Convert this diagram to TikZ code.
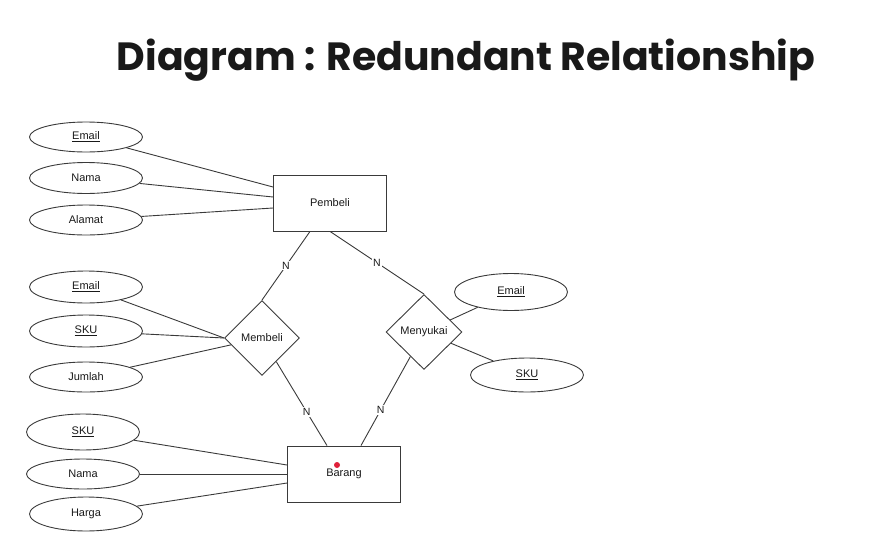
\documentclass[tikz,border=0pt]{standalone}
\usepackage{fontspec}
\setmainfont{Liberation Sans}
\newfontfamily\titlefont{Poppins}
\usetikzlibrary{shapes.geometric}
\definecolor{ln}{HTML}{3A3A3A}
\definecolor{dot}{HTML}{E0213A}
\begin{document}
\begin{tikzpicture}[x=1pt,y=-1pt,
  every node/.style={font=\fontsize{11}{13}\selectfont, text=black!90},
  attr/.style={ellipse, draw=ln, line width=0.9pt, minimum width=113pt, inner sep=0pt},
  ent/.style={rectangle, draw=ln, line width=0.9pt, minimum width=113pt, minimum height=56pt},
  rel/.style={diamond, draw=ln, line width=0.9pt, minimum width=75pt, minimum height=75pt, inner sep=0pt},
  link/.style={draw=ln, line width=0.9pt},
  card/.style={fill=white, inner sep=1pt, font=\fontsize{10.5}{12}\selectfont}]
\useasboundingbox (0,0) rectangle (871,552);
\node[anchor=base, inner sep=0pt] (title) at (466,70)
  {\resizebox{698pt}{!}{\titlefont\bfseries Diagram : Redundant Relationship}};

% entities
\node[ent] (pem) at (330,203) {Pembeli};
\node[ent] (bar) at (344,474) {Barang};
\fill[dot] (337,465) circle (3pt);

% relationships
\node[rel] (mem) at (262,338) {Membeli};
\node[rel, minimum width=76pt] (men) at (424,332) {Menyukai};

% Pembeli attributes
\node[attr, minimum height=30pt] (pemail) at (86,137) {\underline{Email}};
\node[attr, minimum height=31pt] (pnama) at (86,178) {Nama};
\node[attr, minimum height=30pt] (palamat) at (86,220) {Alamat};

% Membeli attributes
\node[attr, minimum height=32pt] (memail) at (86,287) {\underline{Email}};
\node[attr, minimum height=32pt] (msku) at (86,331) {\underline{SKU}};
\node[attr, minimum height=30pt] (mjumlah) at (86,377) {Jumlah};

% Menyukai attributes
\node[attr, minimum height=37pt] (yemail) at (511,292) {\underline{Email}};
\node[attr, minimum height=34pt] (ysku) at (527,375) {\underline{SKU}};

% Barang attributes
\node[attr, minimum height=36pt] (bsku) at (83,432) {\underline{SKU}};
\node[attr, minimum height=30pt] (bnama) at (83,474) {Nama};
\node[attr, minimum height=34pt] (bharga) at (86,514) {Harga};

% attribute links
\draw[link] (pemail) -- ([yshift=16pt]pem.west);
\draw[link] (pnama) -- ([yshift=6pt]pem.west);
\draw[link] (palamat) -- ([yshift=-5pt]pem.west);

\draw[link] (memail) -- (mem.west);
\draw[link] (msku) -- (mem.west);
\draw[link] (mjumlah) -- (mem);

\draw[link] (men) -- (yemail);
\draw[link] (men) -- (ysku);

\draw[link] (bsku) -- ([yshift=9pt]bar.west);
\draw[link] (bnama) -- (bar.west);
\draw[link] (bharga) -- ([yshift=-9pt]bar.west);

% relationship links
\draw[link] ([xshift=-20pt]pem.south) -- node[card] {N} (mem.north);
\draw[link] (pem.south) -- node[card] {N} (men.north);
\draw[link] (mem) -- node[card, pos=0.6] {N} ([xshift=-17pt]bar.north);
\draw[link] (men) -- node[card, pos=0.6] {N} ([xshift=17pt]bar.north);
\end{tikzpicture}
\end{document}
